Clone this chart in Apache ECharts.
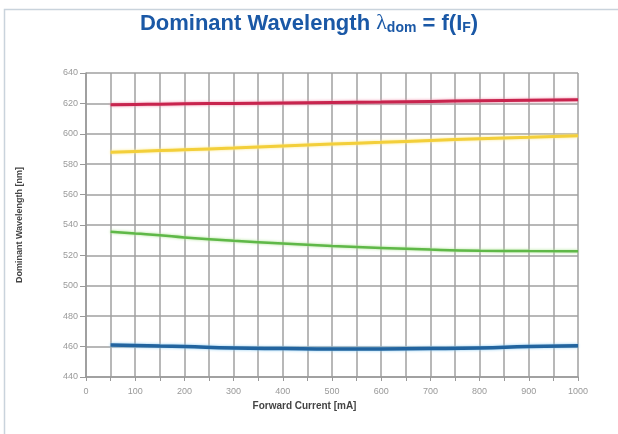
<!DOCTYPE html>
<html><head><meta charset="utf-8">
<script src="https://cdn.jsdelivr.net/npm/echarts@6/dist/echarts.min.js"></script>
<style>html,body{margin:0;padding:0;background:#fff}#c{width:618px;height:434px}</style>
</head><body><div id="c"></div>
<script>
const currents = [50, 100, 150, 200, 300, 400, 500, 600, 700, 800, 900, 1000];
const red    = [619.1, 619.3, 619.5, 619.7, 620.0, 620.3, 620.6, 620.9, 621.3, 621.7, 622.0, 622.4];
const yellow = [587.8, 588.4, 589.0, 589.5, 590.6, 592.0, 593.3, 594.4, 595.6, 596.7, 597.7, 598.7];
const green  = [535.6, 534.4, 533.3, 531.8, 529.6, 527.8, 526.2, 524.9, 523.8, 523.1, 522.9, 522.7];
const blue   = [461.1, 460.8, 460.4, 460.0, 459.1, 458.7, 458.4, 458.5, 458.7, 459.1, 460.0, 460.6];
const yTicks = [440, 460, 480, 500, 520, 540, 560, 580, 600, 620, 640];

const chart = echarts.init(document.getElementById('c'));
const pts = arr => currents.map((x, i) => [x, arr[i]]);
function line(data, color, halo, w) {
  return { type: 'line', data: pts(data), smooth: true, symbol: 'none',
    lineStyle: { color: color, width: w, shadowColor: halo, shadowBlur: 3 }, z: 5 };
}
const TC = '#1a58a6';
chart.setOption({
  animation: false,
  title: {
    text: '{a|Dominant Wavelength }{l|λ}{s|dom}{a| = f(I}{s|F}{a|)}',
    left: 'center', top: 7,
    textStyle: { rich: {
      a: { fontFamily: 'Liberation Sans', fontWeight: 'bold', fontSize: 22, color: TC },
      l: { fontFamily: 'Liberation Serif', fontWeight: 'normal', fontSize: 22, color: TC },
      s: { fontFamily: 'Liberation Sans', fontWeight: 'bold', fontSize: 14, color: TC, verticalAlign: 'bottom', padding: [9, 0, 0, 0] }
    } }
  },
  graphic: [{ type: 'rect', shape: { x: 4.5, y: 9.5, width: 640, height: 440 },
    style: { fill: 'none', stroke: '#c9d3dc', lineWidth: 1.5 }, silent: true }],
  grid: { left: 86, right: 40, top: 73, bottom: 57 },
  xAxis: {
    type: 'value', min: 0, max: 1000, interval: 50,
    name: 'Forward Current [mA]', nameLocation: 'middle', nameGap: 22,
    nameTextStyle: { fontFamily: 'Liberation Sans', fontWeight: 'bold', fontSize: 10, color: '#444', padding: [0, 55, 0, 0] },
    axisLine: { lineStyle: { color: '#999', width: 1.5 } },
    axisTick: { show: true, length: 4, inside: false, lineStyle: { color: '#999' } },
    axisLabel: { fontFamily: 'Liberation Sans', fontSize: 9, color: '#999', margin: 10,
      formatter: v => (v % 100 === 0 ? String(v) : '') },
    splitLine: { show: true, lineStyle: { color: '#a0a0a0', width: 1.5 } }
  },
  yAxis: {
    type: 'value', min: 440, max: 640, interval: 20,
    name: 'Dominant Wavelength [nm]', nameLocation: 'middle', nameGap: 62, nameRotate: 90,
    nameTextStyle: { fontFamily: 'Liberation Sans', fontWeight: 'bold', fontSize: 9, color: '#444' },
    axisLine: { show: true, lineStyle: { color: '#999', width: 1.5 } },
    axisTick: { show: true, length: 6, lineStyle: { color: '#999' } },
    axisLabel: { fontFamily: 'Liberation Sans', fontSize: 9, color: '#999', margin: 8,
      formatter: v => (yTicks.includes(v) ? String(v) : '') },
    splitLine: { show: true, lineStyle: { color: '#a0a0a0', width: 1.5 } }
  },
  series: [
    line(red, '#c8244e', '#f08aa6', 3),
    line(yellow, '#f3cf3a', '#fbe88a', 3),
    line(green, '#5fb848', '#a9e08f', 2.5),
    line(blue, '#22649f', '#86c8f0', 3.5)
  ]
});
</script></body></html>
